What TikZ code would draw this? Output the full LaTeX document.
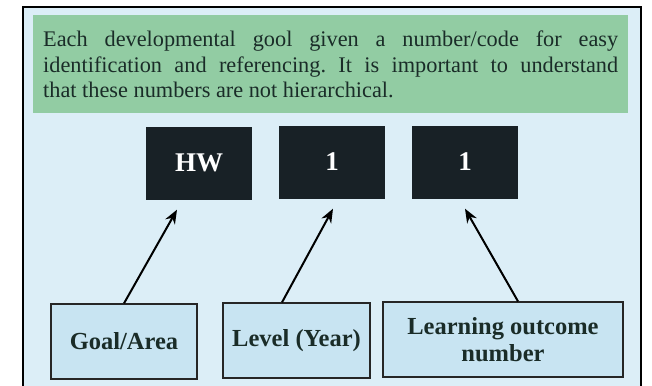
\documentclass[tikz,border=0pt]{standalone}
\usepackage{fontspec}
\setmainfont{Liberation Serif}
\usetikzlibrary{arrows.meta}
\frenchspacing
\definecolor{notegreen}{RGB}{146,204,163}
\definecolor{panelblue}{RGB}{220,238,247}
\definecolor{labelblue}{RGB}{200,228,242}
\definecolor{codedark}{RGB}{24,33,38}
\definecolor{inkdark}{RGB}{26,44,40}
\tikzset{
  codebox/.style={fill=codedark, text=white, inner sep=0pt,
    minimum width=106pt, minimum height=73pt,
    font=\bfseries\fontsize{27}{30}\selectfont},
  labelbox/.style={draw=black!85, line width=1.3pt, fill=labelblue, text=inkdark,
    inner sep=0pt, minimum height=75pt, align=center,
    font=\bfseries\fontsize{24.5}{27}\selectfont},
  pointer/.style={-{Stealth[length=14pt,width=11pt]}, line width=2pt}
}
\begin{document}
\begin{tikzpicture}[x=1pt,y=-1pt]
  \useasboundingbox (0,0) rectangle (652,385);
  \clip (0,0) rectangle (652,385);
  \fill[white] (0,0) rectangle (652,385);
  % panel and note
  \draw[line width=1.1pt, fill=panelblue] (23,7) rectangle (641,400);
  \node[fill=notegreen, inner sep=0pt, minimum width=595pt, minimum height=98pt, anchor=north west] (note) at (33,15) {};
  \node[anchor=north west, inner sep=0pt, text width=575pt, align=justify, text=inkdark,
        font=\fontsize{22.3}{25.5}\selectfont] (notetext) at (43,31)
    {Each developmental gool given a number/code for easy\linebreak
     identification and referencing. It is important to understand\linebreak
     that these numbers are not hierarchical.};

  % the code
  \node[codebox] (hwcode) at (199,163) {HW};
  \node[codebox] (levelcode) at (332,162) {1};
  \node[codebox] (outcomecode) at (465,162) {1};

  % what each part means
  \node[labelbox, minimum width=146pt] (goal) at (124,341.5) {Goal/Area};
  \node[labelbox, minimum width=147pt] (year) at (296.5,340.5) {Level (Year)};
  \node[labelbox, minimum width=240pt] (lonum) at (503,339.5) {Learning outcome\\number};

  \draw[pointer] (goal.north) -- ([xshift=-22pt,yshift=-10pt]hwcode.south);
  \draw[pointer] ([xshift=-14.5pt]year.north) -- ([xshift=1pt,yshift=-10pt]levelcode.south);
  \draw[pointer] ([xshift=15pt]lonum.north) -- ([yshift=-10pt]outcomecode.south);
\end{tikzpicture}
\end{document}
